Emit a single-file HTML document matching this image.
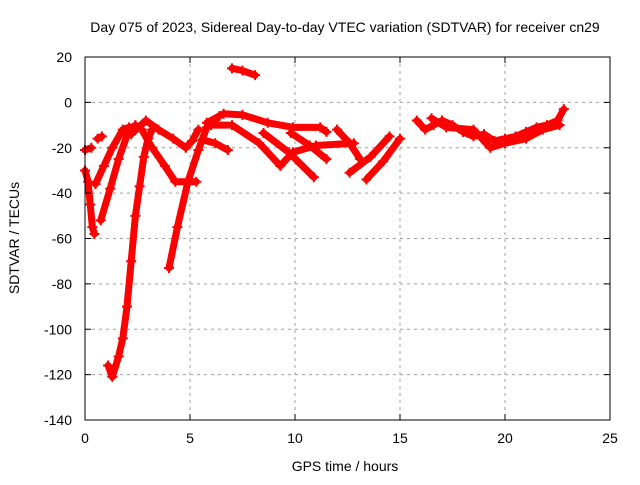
<!DOCTYPE html>
<html><head><meta charset="utf-8"><style>
body{margin:0;background:#fff;}
svg text{font-family:"Liberation Sans",sans-serif;font-size:14px;fill:#000;}
</style></head><body>
<svg id="chart" width="640" height="480" viewBox="0 0 640 480" xmlns="http://www.w3.org/2000/svg">
<rect width="640" height="480" fill="#fff"/>
<text x="345" y="32" text-anchor="middle">Day 075 of 2023, Sidereal Day-to-day VTEC variation (SDTVAR) for receiver cn29</text>
<g id="grid"></g>
<g id="series"></g>
<rect x="85" y="57" width="525" height="363" fill="none" stroke="#000" stroke-width="1"/>
<g id="ticks"></g>
<text x="345" y="471" text-anchor="middle">GPS time / hours</text>
<text transform="translate(19,238) rotate(-90)" text-anchor="middle">SDTVAR / TECUs</text>
</svg>
<script>
const xTicks=[0,5,10,15,20,25];
const yTicks=[20,0,-20,-40,-60,-80,-100,-120,-140];
const s1=[[1.1,-116],[1.3,-121],[1.6,-112],[1.8,-104],[2.0,-90],[2.2,-70],[2.4,-50],[2.6,-37],[2.8,-24],[3.0,-16],[3.2,-12]];
const s2=[[0.5,-36],[0.9,-28],[1.3,-20],[1.8,-12],[2.1,-11]];
const s3=[[0.75,-52],[1.2,-38],[1.6,-25],[2.1,-12],[2.4,-10],[2.7,-12],[3.2,-20],[3.8,-28],[4.3,-35],[5.3,-35]];
const s4=[[2.2,-14],[2.9,-8],[3.5,-12],[4.2,-16],[4.8,-20],[5.1,-17],[5.4,-12]];
const s5=[[4.0,-73],[4.4,-55],[4.9,-35],[5.4,-21],[5.8,-11],[6.4,-6]];
const s6=[[0.0,-30],[0.15,-35],[0.25,-45],[0.35,-55],[0.45,-58]];
const s7=[[0.0,-21],[0.3,-20]];
const s8=[[0.6,-16],[0.8,-15]];
const s9=[[7.0,15],[7.5,14],[8.1,12]];
const s10=[[5.8,-9],[6.6,-5],[7.5,-5.5],[8.7,-9],[9.9,-11],[11.2,-11],[11.5,-13]];
const s11=[[6.0,-10],[7.0,-10],[8.3,-18],[9.3,-28],[9.9,-22],[11.0,-19],[12.8,-18]];
const s12=[[8.5,-13.5],[9.7,-22],[10.9,-33]];
const s13=[[9.8,-13.5],[10.7,-19],[11.5,-25]];
const s14=[[12.0,-12],[12.6,-18],[13.1,-25]];
const s15=[[12.6,-31],[13.6,-24],[14.5,-15]];
const s16=[[13.4,-34],[14.2,-26],[15.0,-16]];
const s17=[[5.6,-16.5],[6.2,-18],[6.8,-21]];
const s18=[[15.8,-8],[16.2,-12],[16.6,-10],[17.0,-8],[17.5,-10],[18.0,-13],[18.5,-15],[19.0,-14],[19.5,-17],[20.0,-16],[20.5,-15],[21.0,-13],[21.5,-11],[22.0,-10],[22.5,-8],[22.8,-3]];
const s19=[[16.5,-7],[17.2,-11],[18.5,-12],[19.3,-20],[20.0,-18],[21.0,-16],[21.8,-12],[22.6,-10]];
const allSeries=[s1,s2,s3,s4,s5,s6,s7,s8,s9,s10,s11,s12,s13,s14,s15,s16,s17,s18,s19];
const NS="http://www.w3.org/2000/svg";
const X0=85,X1=610,Y0=57,Y1=420;
function xs(t){return X0+(t-0)/25*(X1-X0);}
function ys(v){return Y0+(20-v)/160*(Y1-Y0);}
function mk(tag,attrs,parent){const e=document.createElementNS(NS,tag);for(const k in attrs)e.setAttribute(k,attrs[k]);parent.appendChild(e);return e;}
const grid=document.getElementById('grid'),ticks=document.getElementById('ticks'),ser=document.getElementById('series');
xTicks.forEach(t=>{const x=xs(t);
 if(t>0&&t<25){const g=mk('line',{x1:x,x2:x,y1:Y0,y2:Y1,stroke:'#a0a0a0','stroke-dasharray':'3,4'},grid);
 
 }
 mk('line',{x1:x,x2:x,y1:Y1,y2:Y1-6,stroke:'#000'},ticks);mk('line',{x1:x,x2:x,y1:Y0,y2:Y0+6,stroke:'#000'},ticks);
 const l=mk('text',{x:x,y:443,'text-anchor':'middle'},ticks);l.textContent=t;
 
 });
yTicks.forEach(v=>{const y=ys(v);
 if(v<20&&v>-140){const g=mk('line',{x1:X0,x2:X1,y1:y,y2:y,stroke:'#a0a0a0','stroke-dasharray':'3,4'},grid);
 
 }
 mk('line',{x1:X0,x2:X0+6,y1:y,y2:y,stroke:'#000'},ticks);mk('line',{x1:X1,x2:X1-6,y1:y,y2:y,stroke:'#000'},ticks);
 const l=mk('text',{x:72,y:y+5,'text-anchor':'end'},ticks);l.textContent=v;
 
 });
allSeries.forEach((s,i)=>{
 const p=mk('polyline',{points:s.map(d=>xs(d[0])+','+ys(d[1])).join(' '),fill:'none',stroke:'#f00','stroke-width':7,'stroke-linejoin':'round','stroke-linecap':'round'},ser);
 
 
 s.forEach(d=>{const x=xs(d[0]),y=ys(d[1]);
  const m=mk('path',{d:`M${x-5},${y}H${x+5}M${x},${y-5}V${y+5}`,stroke:'#f00','stroke-width':2},ser);
  
  });
});
</script>
</body></html>
